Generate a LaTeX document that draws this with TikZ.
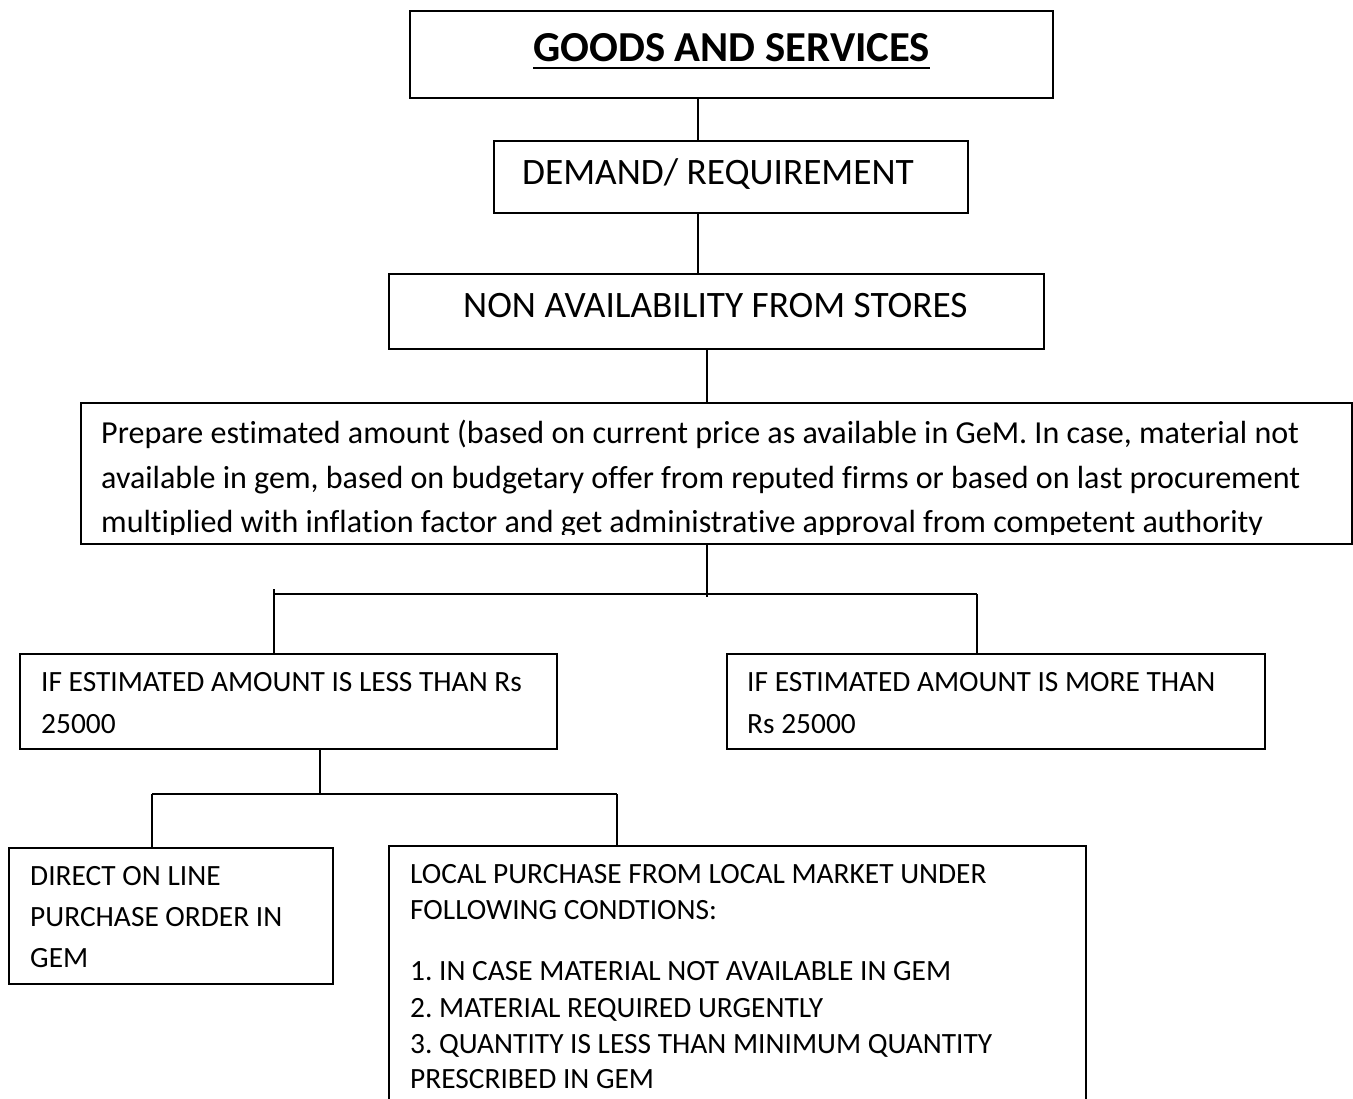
\documentclass[tikz,border=0pt]{standalone}
\usepackage{fontspec}
\setmainfont{Carlito}[Ligatures={NoCommon}]
\usetikzlibrary{calc}
\frenchspacing
\begin{document}
\begin{tikzpicture}[x=1pt,y=-1pt,
  box/.style={draw, line width=1.8pt, inner sep=0pt, anchor=north west},
  wire/.style={line width=1.4pt},
  txt/.style={anchor=base west, inner sep=0pt},
  head/.style={font=\fontsize{42.7}{50}\selectfont\bfseries},
  big/.style={font=\fontsize{37.3}{44}\selectfont},
  mid/.style={font=\fontsize{32.05}{38}\selectfont},
  small/.style={font=\fontsize{29.4}{34}\selectfont},
]
\useasboundingbox[fill=white] (0,0) rectangle (1353,1099);

% boxes
\node[box, minimum width=643pt, minimum height=87pt] (goods) at (409,10) {};
\node[box, minimum width=474pt, minimum height=72pt] (demand) at (493,140) {};
\node[box, minimum width=655pt, minimum height=75pt] (non) at (388,273) {};
\node[box, minimum width=1271pt, minimum height=141pt] (prep) at (80,402) {};
\node[box, minimum width=537pt, minimum height=95pt] (less) at (19,653) {};
\node[box, minimum width=538pt, minimum height=95pt] (more) at (726,653) {};
\node[box, minimum width=324pt, minimum height=136pt] (direct) at (8,847) {};
\node[box, minimum width=697pt, minimum height=270pt] (local) at (388,845) {};

% texts
\node[txt, head] (title) at (533,62) {GOODS AND SERVICES};
\draw[line width=2.2pt] ($(title.base west)+(0,6)$) -- ($(title.base east)+(0,6)$);
\node[txt, big] (demand-t) at (522,185) {DEMAND/ REQUIREMENT};
\node[txt, big] (non-t) at (463,318) {NON AVAILABILITY FROM STORES};

\node[txt, mid] (prep-1) at (101,443) {Prepare estimated amount (based on current price as available in GeM. In case, material not};
\node[txt, mid] (prep-2) at (101,488) {available in gem, based on budgetary offer from reputed firms or based on last procurement};
\begin{scope}
  \clip (80,402) rectangle (1351,534.5);
  \node[txt, mid] (prep-3) at (101,532) {multiplied with inflation factor and get administrative approval from competent authority};
\end{scope}

\node[txt, small] (less-1) at (41,691) {IF ESTIMATED AMOUNT IS LESS THAN Rs};
\node[txt, small] (less-2) at (41,733) {25000};
\node[txt, small] (more-1) at (747,691) {IF ESTIMATED AMOUNT IS MORE THAN};
\node[txt, small] (more-2) at (747,733) {Rs 25000};

\node[txt, small] (direct-1) at (30,885) {DIRECT ON LINE};
\node[txt, small] (direct-2) at (30,926) {PURCHASE ORDER IN};
\node[txt, small] (direct-3) at (30,967) {GEM};

\node[txt, small] (local-1) at (410,883) {LOCAL PURCHASE FROM LOCAL MARKET UNDER};
\node[txt, small] (local-2) at (410,919) {FOLLOWING CONDTIONS:};
\node[txt, small] (local-3) at (410,980) {1. IN CASE MATERIAL NOT AVAILABLE IN GEM};
\node[txt, small] (local-4) at (410,1017) {2. MATERIAL REQUIRED URGENTLY};
\node[txt, small] (local-5) at (410,1053) {3. QUANTITY IS LESS THAN MINIMUM QUANTITY};
\node[txt, small] (local-6) at (410,1088) {PRESCRIBED IN GEM};

% connectors
\coordinate (t1) at (698,0);
\coordinate (t2) at (707,0);
\coordinate (j1) at (707,597);
\coordinate (j1l) at (274,589);
\coordinate (j1r) at (977,594);
\coordinate (t3) at (320,0);
\coordinate (j2) at (320,795);
\coordinate (j2l) at (152,794);
\coordinate (j2r) at (617,794);

\draw[wire] (goods.south -| t1) -- (demand.north -| t1);
\draw[wire] (demand.south -| t1) -- (non.north -| t1);
\draw[wire] (non.south -| t2) -- (prep.north -| t2);
\draw[wire] (prep.south -| t2) -- (j1);
\draw[wire] (j1l |- j1r) -- (j1r);
\draw[wire] (j1l) -- (less.north -| j1l);
\draw[wire] (j1r) -- (more.north -| j1r);
\draw[wire] (less.south -| t3) -- (j2);
\draw[wire] (j2l) -- (j2r);
\draw[wire] (j2l) -- (direct.north -| j2l);
\draw[wire] (j2r) -- (local.north -| j2r);
\end{tikzpicture}
\end{document}
